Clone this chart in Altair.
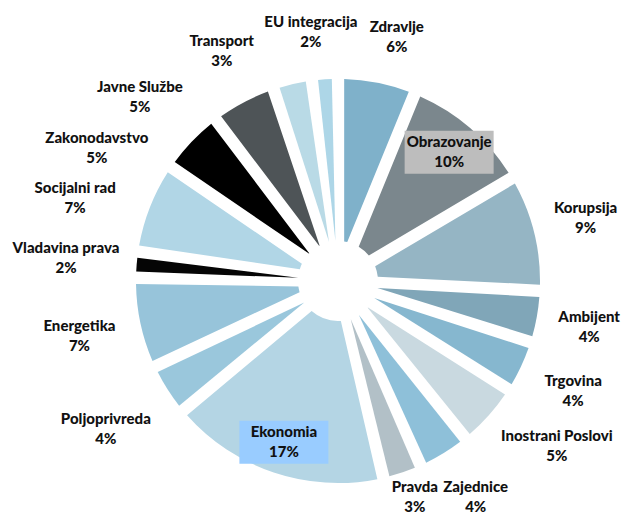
import math
import altair as alt
import pandas as pd

# ---- data ----
names = ["Zdravlje", "Obrazovanje", "Korupsija", "Ambijent", "Trgovina",
         "Inostrani Poslovi", "Zajednice", "Pravda", "Ekonomia", "Poljoprivreda",
         "Energetika", "Vladavina prava", "Socijalni rad", "Zakonodavstvo",
         "Javne Službe", "Transport", "EU integracija"]
values = [6, 10, 9, 4, 4, 5, 4, 3, 17, 4, 7, 2, 7, 5, 5, 3, 2]
colors = ["#7fb1ca", "#7b878d", "#95b5c4", "#80a6b8", "#86b7cf",
          "#c9d9e0", "#8ec0d9", "#b2c0c7", "#b4d5e4", "#9ac7dc",
          "#97c4da", "#050505", "#b1d6e6", "#000000", "#4e5457",
          "#b9dae6", "#add6e7"]
inside_labels = ["Obrazovanje", "Ekonomia"]
box_colors = {"Obrazovanje": "#bdbdbd", "Ekonomia": "#99ccff"}

# ---- layout ----
W, H = 560, 468
PAD = {"left": 50, "top": 39, "right": 3, "bottom": 0}
R_OUT, R_IN, PAD_ANGLE = 202, 40, 0.06
FONT, FS, LINE_H = "Lato", 15, 20
BOX_W, BOX_H = 89, 43
R_LABEL, R_INSIDE = 225, 170
V_GAP = 50  # minimum vertical distance between label centres that share columns

df = pd.DataFrame({"idx": range(len(names)), "name": names, "value": values})

total = sum(values)
mids, cum = [], 0.0
for v in values:
    mids.append((cum + v / 2) / total * 360.0)
    cum += v

texts = [f"{n}\n{v}%" for n, v in zip(names, values)]
widths = [max(len(s) for s in t.split("\n")) * 7.2 for t in texts]
LH = 2 * LINE_H
y_min = -(H / 2 + PAD["bottom"]) + LH / 2 - 2
y_max = (H / 2 + PAD["top"]) - LH / 2 - 2
x_min = -(W / 2 + PAD["left"]) + 4
x_max = (W / 2 + PAD["right"]) - 3


def place(a, w):
    s, c = math.sin(math.radians(a)), math.cos(math.radians(a))
    r = R_LABEL + abs(s) * w / 2 + abs(c) * LH / 2
    x = min(max(r * s, x_min + w / 2), x_max - w / 2)
    return x, min(max(r * c, y_min), y_max)


# spread outside labels around their slice midpoints until no boxes overlap
outs = [i for i, n in enumerate(names) if n not in inside_labels]
ang = {i: mids[i] for i in outs}
for _ in range(6000):
    moved = False
    for k in range(len(outs)):
        i, j = outs[k], outs[(k + 1) % len(outs)]
        xi, yi = place(ang[i], widths[i])
        xj, yj = place(ang[j], widths[j])
        if abs(xi - xj) < (widths[i] + widths[j]) / 2 + 6 and abs(yi - yj) < V_GAP:
            ang[i] -= 0.35
            ang[j] += 0.1
            moved = True
    if not moved:
        break

rows = []
for i, n in enumerate(names):
    if n in inside_labels:
        a = math.radians(mids[i])
        lx, ly = R_INSIDE * math.sin(a), R_INSIDE * math.cos(a)
    else:
        lx, ly = place(ang[i], widths[i])
    rows.append({"name": n, "text": texts[i], "lx": lx, "ly": ly,
                 "box": box_colors.get(n, "")})
lab = pd.DataFrame(rows)
boxes = lab[lab["box"] != ""].copy()
boxes["x0"] = boxes["lx"] - BOX_W / 2
boxes["x1"] = boxes["lx"] + BOX_W / 2
boxes["y0"] = boxes["ly"] - BOX_H / 2
boxes["y1"] = boxes["ly"] + BOX_H / 2

xs = alt.Scale(domain=[-W / 2, W / 2], nice=False, zero=False)
ys = alt.Scale(domain=[-H / 2, H / 2], nice=False, zero=False)

pie = alt.Chart(df).mark_arc(
    outerRadius=R_OUT, innerRadius=R_IN, padAngle=PAD_ANGLE
).encode(
    theta=alt.Theta("value:Q", stack=True),
    order=alt.Order("idx:Q", sort="ascending"),
    color=alt.Color("name:N", scale=alt.Scale(domain=names, range=colors), legend=None),
)

rects = alt.Chart(boxes).mark_rect().encode(
    x=alt.X("x0:Q", scale=xs, axis=None),
    x2="x1:Q",
    y=alt.Y("y0:Q", scale=ys, axis=None),
    y2="y1:Q",
    fill=alt.Fill("box:N", scale=None, legend=None),
)

labels = alt.Chart(lab).mark_text(
    font=FONT, fontWeight=900, fontSize=FS, lineBreak="\n", lineHeight=LINE_H,
    color="#111111", align="center", baseline="middle", dy=-LINE_H / 2
).encode(
    x=alt.X("lx:Q", scale=xs, axis=None),
    y=alt.Y("ly:Q", scale=ys, axis=None),
    text="text:N",
)

chart = alt.layer(pie, rects, labels).properties(
    width=W, height=H, padding=PAD,
    autosize=alt.AutoSizeParams(type="none"),
    background="white",
).configure_view(stroke=None)

chart.save("out.html", embed_options={"renderer": "svg", "actions": False})
